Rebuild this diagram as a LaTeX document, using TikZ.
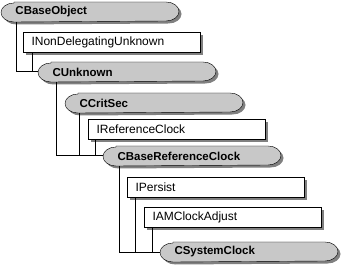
\documentclass[tikz,border=0pt]{standalone}
\usepackage{fontspec}
\setmainfont{Liberation Sans}
\usetikzlibrary{shadows,backgrounds}
\definecolor{shade}{RGB}{128,128,128}
\definecolor{pillgray}{RGB}{200,200,200}

\begin{document}
\begin{tikzpicture}[x=1pt,y=1pt,line width=1pt,
  cls/.style={anchor=north west,minimum height=19pt,inner xsep=14pt,inner ysep=0pt,
    text width=149pt,font=\fontsize{11.5}{13}\selectfont\bfseries},
  ifc/.style={anchor=north west,draw,fill=white,minimum height=20pt,inner xsep=8pt,
    inner ysep=0pt,text width=161pt,font=\fontsize{12}{13}\selectfont,
    drop shadow={shadow xshift=2.5pt,shadow yshift=-2.5pt,fill=shade,opacity=1}}]
 \useasboundingbox (0,0) rectangle (353,-272);
 \node[cls] (cbo) at (1,-2) {CBaseObject};
 \node[ifc] (indu) at (23,-32) {INonDelegatingUnknown};
 \node[cls] (cunk) at (38,-62) {CUnknown};
 \node[cls] (ccrit) at (65,-93) {CCritSec};
 \node[ifc] (irc) at (88,-119) {IReferenceClock};
 \node[cls] (cbrc) at (103,-146) {CBaseReferenceClock};
 \node[ifc] (ipers) at (127,-177) {IPersist};
 \node[ifc] (iamca) at (144,-207) {IAMClockAdjust};
 \node[cls] (csys) at (160,-242) {CSystemClock};
 \begin{scope}[on background layer]
  \foreach \n in {cbo,cunk,ccrit,cbrc,csys}
   \draw[fill=pillgray,
     drop shadow={shadow xshift=2.5pt,shadow yshift=-2.5pt,fill=shade,opacity=1}]
     ([xshift=13pt]\n.north west) -- ([xshift=-13pt]\n.north east)
     arc[start angle=90,end angle=-90,x radius=13,y radius=9.5]
     -- ([xshift=13pt]\n.south west)
     arc[start angle=270,end angle=90,x radius=13,y radius=9.5] -- cycle;
 \end{scope}
 \draw ([xshift=15pt]cbo.south west) |- (cunk.west);
 \draw ([xshift=9pt]indu.south west) |- (cunk.west);
 \draw ([xshift=18pt]cunk.south west) |- (cbrc.west);
 \draw ([xshift=14pt]ccrit.south west) |- (cbrc.west);
 \draw ([xshift=7pt]irc.south west) |- (cbrc.west);
 \draw ([xshift=16pt]cbrc.south west) |- (csys.west);
 \draw ([xshift=8pt]ipers.south west) |- (csys.west);
 \draw ([xshift=8pt]iamca.south west) |- (csys.west);
\end{tikzpicture}
\end{document}
